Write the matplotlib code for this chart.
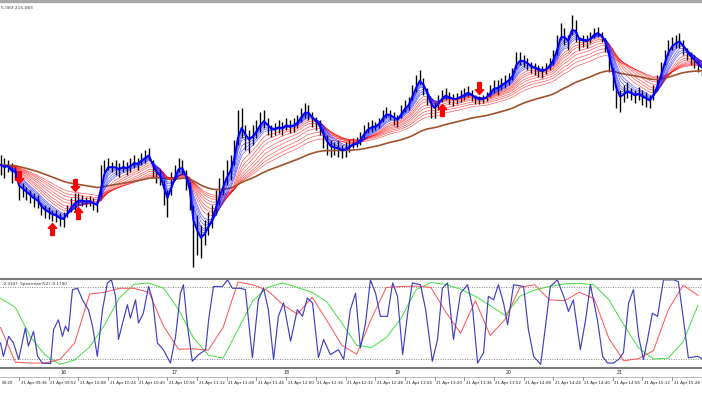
import numpy as np
import matplotlib
matplotlib.use("Agg")
import matplotlib.pyplot as plt
from matplotlib.path import Path
from matplotlib.patches import Rectangle

# --------------------------------------------------------------------
# data (2-minute bars from 21 Apr 09:26, price in points)
highs = [145, 142, 140, 137, 135, 115, 117, 113, 110, 107,
         105, 97, 95, 93, 90, 90, 87, 88, 95, 102,
         107, 107, 105, 103, 104, 102, 100, 135, 140, 142,
         138, 140, 137, 140, 138, 142, 145, 142, 147, 150,
         152, 140, 132, 130, 120, 110, 128, 135, 142, 140,
         130, 118, 95, 85, 75, 80, 88, 95, 110, 122,
         130, 140, 145, 160, 190, 192, 175, 170, 175, 180,
         188, 190, 182, 175, 177, 180, 178, 182, 180, 182,
         185, 192, 197, 195, 188, 183, 180, 172, 165, 160,
         158, 160, 155, 158, 160, 162, 163, 168, 175, 178,
         180, 178, 182, 190, 193, 190, 188, 185, 195, 200,
         203, 215, 225, 230, 222, 212, 200, 198, 205, 210,
         212, 208, 206, 207, 210, 212, 214, 210, 205, 204,
         205, 208, 215, 220, 220, 222, 225, 227, 232, 248,
         248, 245, 242, 238, 237, 235, 234, 237, 242, 250,
         265, 277, 272, 265, 285, 280, 263, 265, 265, 268,
         272, 273, 268, 262, 250, 232, 215, 210, 215, 218,
         212, 210, 213, 210, 208, 205, 215, 225, 238, 250,
         260, 263, 265, 267, 260, 252, 248, 245, 240, 238]
lows = [125, 122, 128, 117, 120, 100, 103, 100, 97, 93,
        92, 85, 82, 81, 79, 78, 74, 73, 83, 88,
        90, 95, 94, 93, 94, 90, 88, 100, 128, 130,
        128, 125, 123, 128, 125, 128, 132, 130, 135, 137,
        140, 122, 117, 115, 95, 83, 105, 120, 128, 125,
        110, 90, 33, 45, 42, 55, 65, 72, 85, 95,
        105, 115, 120, 135, 155, 162, 150, 147, 155, 162,
        168, 172, 165, 163, 165, 167, 165, 170, 167, 168,
        172, 178, 182, 180, 173, 170, 165, 152, 145, 143,
        145, 143, 142, 143, 148, 152, 153, 155, 162, 167,
        168, 170, 172, 178, 182, 180, 175, 173, 182, 188,
        190, 200, 208, 215, 205, 195, 182, 182, 190, 198,
        200, 196, 194, 196, 198, 200, 203, 199, 196, 196,
        197, 199, 203, 207, 205, 210, 212, 215, 220, 232,
        235, 233, 230, 227, 225, 223, 222, 226, 230, 235,
        245, 260, 255, 250, 265, 258, 250, 253, 252, 257,
        262, 263, 258, 248, 228, 210, 192, 188, 198, 202,
        200, 197, 200, 195, 193, 192, 200, 210, 222, 235,
        245, 250, 252, 252, 245, 240, 235, 232, 228, 224]

up_bars = [14, 21, 119]
down_bars = [5, 20, 129]

# spearman fast line (bar position, value)
fast_bar = [0, 0.8, 2.2, 3.5, 4.9, 6.7, 7.5, 8.9, 10, 11.3,
            13.5, 14.3, 15.6, 16.7, 17.5, 18.3, 19.4, 20.8, 22.1, 23.7,
            24.8, 26.1, 27.5, 28.8, 29.9, 31, 31.8, 32.9, 34.2, 35,
            36.4, 37.2, 38.5, 39.9, 41, 42.3, 43.9, 45.8, 47.2, 48.5,
            49.3, 50.4, 51.7, 53.4, 55.3, 56.1, 57.4, 59.8, 61.2, 62.5,
            64.7, 66, 67.9, 69.5, 70.9, 72.2, 73.6, 74.9, 76.3, 78.2,
            80, 81.4, 82.7, 84.1, 85.7, 87.1, 88.9, 91.1, 92.5, 94.3,
            95.7, 97, 98.4, 99.7, 101.1, 102.4, 104.3, 105.7, 107, 108.4,
            109.7, 111, 113.2, 114.6, 116.4, 117.8, 119.1, 120.5, 122.1, 124,
            125.9, 127.2, 128.6, 130.2, 131.5, 132.9, 134.2, 135.6, 136.7, 138.3,
            141, 142.3, 143.7, 145.6, 146.9, 148.2, 150.1, 151.8, 153.1, 154.4,
            156.3, 157.7, 159, 160.9, 162.3, 163.6, 165.2, 166.6, 167.9, 169.3,
            170.6, 172, 173.3, 174.4, 175.7, 177.1, 178.7, 181.4, 182.7, 184.1,
            185.4, 187.9, 189.5]
fast_val = [-0.45, -0.75, -0.3, -0.45, -0.82, -0.11, -0.52, -0.19, -0.75, -0.9,
            -0.91, -0.15, 0.07, -0.3, -0.07, -0.19, 0.75, 0.78, 0.52, 0.3,
            -0.07, -0.75, 0.3, 0.9, 0.97, 0.6, -0.37, 0.0, 0.41, 0.11,
            0.52, 0.0, 0.22, 0.82, 0.52, -0.45, -0.6, -0.9, -0.3, 0.67,
            0.86, -0.07, -0.86, -0.71, -0.6, 0.07, 0.82, 0.82, 0.97, 0.78,
            0.78, 0.75, -0.78, 0.52, 0.78, 0.3, -0.82, 0.15, 0.45, -0.41,
            0.3, 0.15, 0.56, 0.45, -0.78, -0.37, -0.71, -0.6, -0.82, 0.3,
            0.67, -0.56, 0.0, 0.97, 0.67, 0.15, 0.15, 0.9, 0.6, -0.71,
            0.19, 0.9, 0.86, 0.3, -0.86, -0.37, 0.78, 0.9, -0.37, 0.67,
            0.86, 0.37, -0.9, -0.67, 0.6, 0.52, 0.86, 0.45, -0.04, 0.86,
            0.82, -0.15, -0.75, -0.93, -0.07, 0.82, 0.97, 0.6, 0.26, 0.52,
            -0.6, 0.07, 0.86, 0.07, -0.75, -0.9, -0.9, -0.82, -0.67, 0.45,
            0.75, -0.3, -0.82, -0.37, 0.22, 0.15, 0.97, 0.97, 0.93, 0.07,
            -0.78, -0.75, -0.82]

# spearman medium / slow lines, every 4 bars
spear_mid = [-0.1, -0.88, -0.9, -0.9, -0.82, -0.45, 0.65, 0.69, 0.78, 0.78,
             0.69, -0.08, -0.59, -0.58, -0.61, -0.1, 0.92, 0.86, 0.73, 0.42,
             0.2, 0.58, 0.05, -0.5, -0.7, 0.1, 0.8, 0.82, 0.83, 0.8,
             0.25, -0.23, 0.5, -0.28, 0.08, 0.8, 0.86, 0.52, 0.5, 0.69,
             0.55, -0.35, -0.85, -0.8, -0.62, 0.3, 0.85, 0.62]
spear_slow = [0.56, 0.35, -0.3, -0.72, -0.93, -0.83, -0.54, -0.05, 0.56, 0.87,
              0.9, 0.78, 0.3, -0.33, -0.72, -0.79, -0.15, 0.5, 0.8, 0.9,
              0.8, 0.69, 0.47, 0.0, -0.5, -0.55, -0.33, 0.11, 0.75, 0.91,
              0.87, 0.76, 0.6, 0.39, 0.17, 0.6, 0.74, 0.82, 0.88, 0.89,
              0.86, 0.52, -0.04, -0.56, -0.81, -0.79, -0.42, 0.4]

tick_times = ["09:20", "09:36", "09:52", "10:08", "10:24", "10:40", "10:56", "11:12",
              "11:28", "11:44", "12:00", "12:16", "12:32", "12:48", "13:04", "13:20",
              "13:36", "13:52", "14:08", "14:24", "14:40", "14:56", "15:12", "15:28"]
hour_times = ["10:00", "11:00", "12:00", "13:00", "14:00", "15:00"]
hour_labels = ["16", "17", "18", "19", "20", "21"]

blue_periods = [2, 2.5, 3, 3.5, 4, 5, 6, 7]
red_periods = [9, 11, 13, 16, 19, 23, 27, 32]
brown_period = 55


# --------------------------------------------------------------------
# utilization functions
def ema(_x, _n):
	a = 2.0 / (_n + 1)
	out = np.empty(len(_x))
	out[0] = _x[0]
	for i in range(1, len(_x)):
		out[i] = out[i - 1] + a * (_x[i] - out[i - 1])
	return out

def to_bar(_t):
	h, m = _t.split(":")
	return (int(h) * 60 + int(m) - (9 * 60 + 26)) / 2.0


# --------------------------------------------------------------------
# figure
W, H = 702, 395
fig = plt.figure(figsize=(W / 100, H / 100), dpi=100)
px = 3.71
xlim = (-0.5 / px, (W - 0.5) / px)

def add_px_axes(y0, y1):
	return fig.add_axes([0, (H - y1) / H, 1, (y1 - y0) / H])

highs = np.array(highs, dtype=float)
lows = np.array(lows, dtype=float)
mid = (highs + lows) / 2
bars = np.arange(len(highs))

# main pane
ax = add_px_axes(2, 276)
ax.set_xlim(xlim)
ax.set_ylim(24, 298)
ax.axis("off")
ax.vlines(bars, lows, highs, color="black", lw=1.0, zorder=2)

for n in red_periods:
	ax.plot(bars, ema(mid, n), color="red", lw=0.45, alpha=0.7, zorder=3)
ax.plot(bars, ema(mid, brown_period), color="#a0522d", lw=1.2, zorder=4)
for n in blue_periods[1:]:
	ax.plot(bars, ema(mid, n), color="blue", lw=0.45, alpha=0.7, zorder=5)
ax.plot(bars, ema(mid, blue_periods[0]), color="blue", lw=1.4, zorder=6)

up_arrow = Path([(0, 1), (0.7, 0.2), (0.3, 0.2), (0.3, -1), (-0.3, -1), (-0.3, 0.2), (-0.7, 0.2), (0, 1)],
                [Path.MOVETO] + [Path.LINETO] * 6 + [Path.CLOSEPOLY])
down_arrow = Path([(x, -y) for x, y in up_arrow.vertices], up_arrow.codes)
ax.plot(up_bars, lows[up_bars] - 8, ls="none", marker=up_arrow, ms=8.6, color="red", zorder=7)
ax.plot(down_bars, highs[down_bars] + 8, ls="none", marker=down_arrow, ms=8.6, color="red", zorder=7)

ax.text(1 / px, 292, "5.083 215.083", fontsize=3.2, color="#404040", va="center", ha="left")

# indicator pane
sx = add_px_axes(278.5, 367.5)
sx.set_xlim(xlim)
sx.set_ylim(-1.0, 1.0)
sx.set_xticks([])
sx.set_yticks([])
for s in ["left", "right"]:
	sx.spines[s].set_visible(False)
for s in ["top", "bottom"]:
	sx.spines[s].set_color("#7a7a7a")
	sx.spines[s].set_linewidth(1.5)
sx.axhline(0.8, color="#8a8a8a", lw=0.7, ls=(0, (1, 1.5)))
sx.axhline(-0.8, color="#8a8a8a", lw=0.7, ls=(0, (1, 1.5)))
sx.plot(np.arange(len(spear_slow)) * 4, spear_slow, color="#40e040", lw=0.7)
sx.plot(np.arange(len(spear_mid)) * 4, spear_mid, color="#ff5050", lw=0.7)
sx.plot(fast_bar, fast_val, color="#4040c0", lw=0.85, solid_joinstyle="round")
sx.text(2 / px, 0.88, "-0.3347  Spearman(52) -0.1790", fontsize=3.0,
        color="#303030", ha="left", va="center")

# time axis
tx = add_px_axes(368, 395)
tx.set_xlim(xlim)
tx.set_ylim(27, 0)
tx.axis("off")
tx.axhline(8.5, color="#b0b0b0", lw=0.6)
for i, t in enumerate(tick_times):
	b = to_bar(t)
	tx.plot([b, b], [8.5, 12], color="#707070", lw=0.5)
	if i == 0:
		# first label is cut by the window edge, keep the visible part
		tx.text(1 / px, 15, t, fontsize=2.9, color="#202020", ha="left", va="center")
	else:
		tx.text(b + 1.5 / px, 15, "21 Apr " + t, fontsize=2.9, color="#202020", ha="left", va="center")
for t, lab in zip(hour_times, hour_labels):
	tx.text(to_bar(t), 4, lab, fontsize=3.4, color="#202020", ha="center", va="center")

# window border on top
fig.patches.append(Rectangle((0, (H - 2) / H), 1, 2 / H, transform=fig.transFigure, color="#a8a8a8"))

fig.savefig("out.png", dpi=100)
